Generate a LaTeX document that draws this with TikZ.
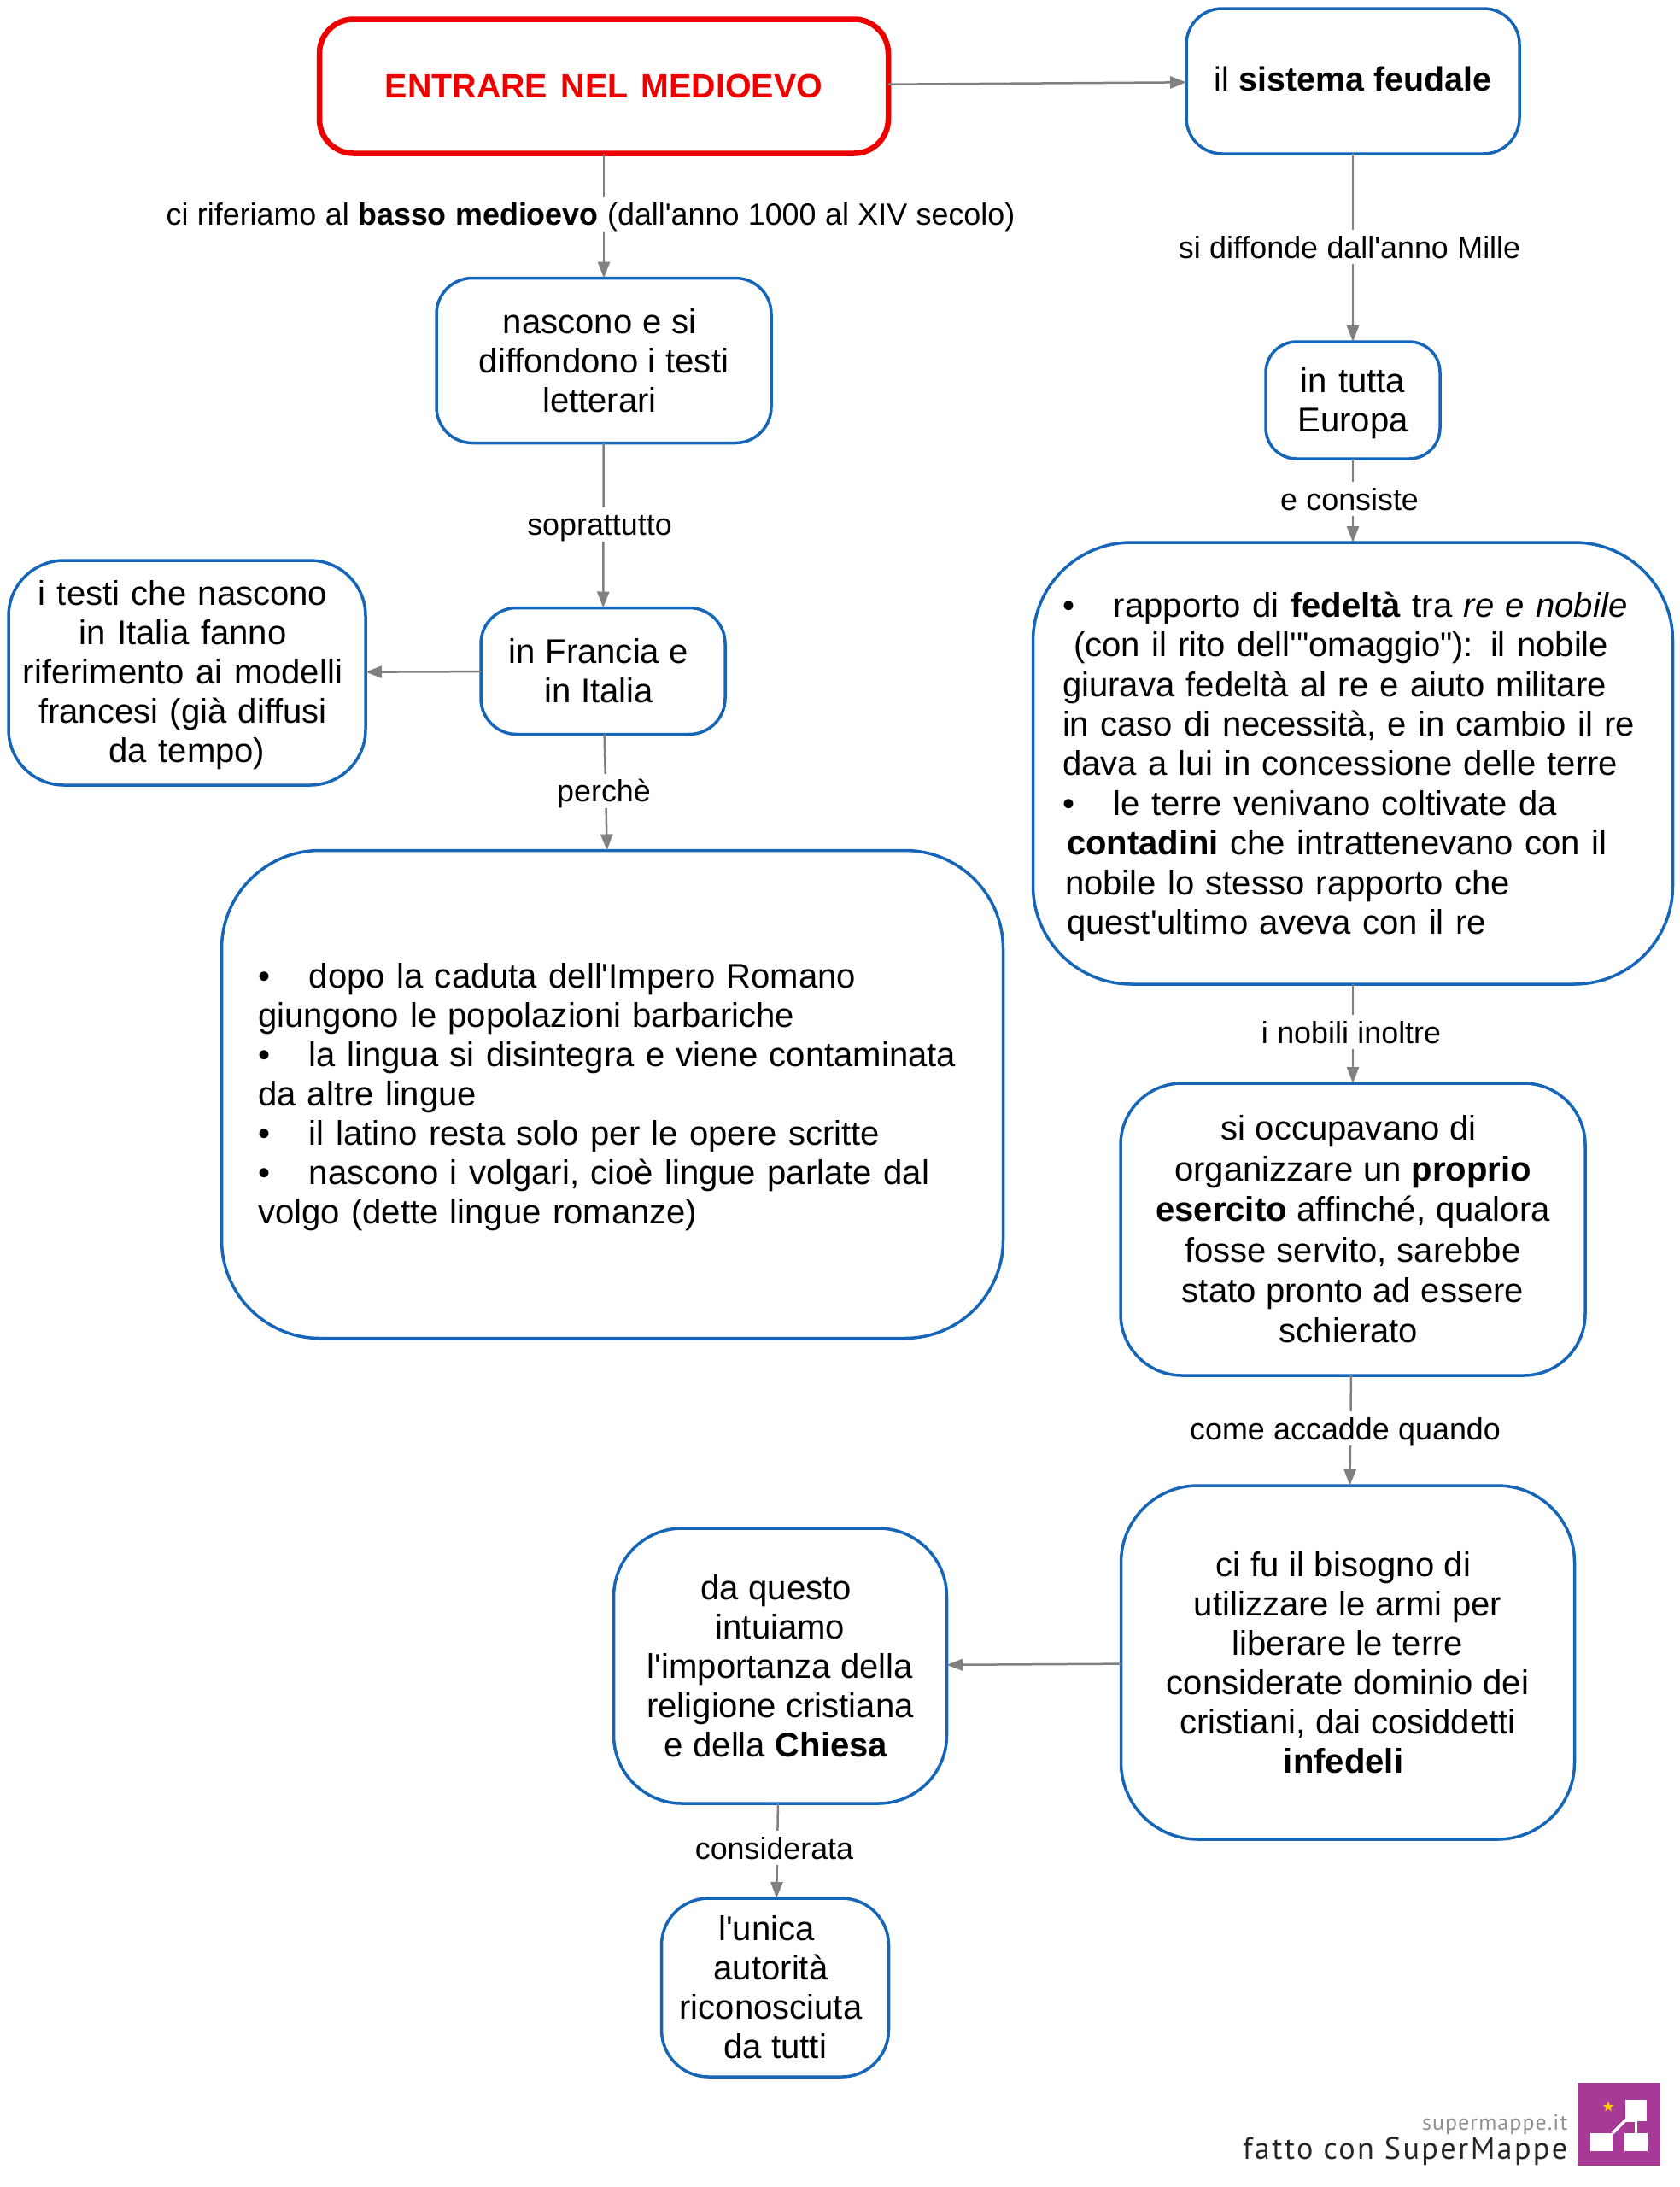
\documentclass[tikz,border=0pt]{standalone}
\usepackage{xcolor}
\usepackage{fontspec}
\setmainfont[WordSpace=1.4,Ligatures=TeXOff]{Liberation Sans}
\newfontfamily\labfont[WordSpace=1.05,Ligatures=TeXOff]{Liberation Sans}
\newfontfamily\logofont[LetterSpace=4]{PT Sans}
\newfontfamily\logofontb[LetterSpace=6.5]{PT Sans}
\usepackage{tikz}
\usetikzlibrary{shapes.geometric, arrows.meta, positioning}
\definecolor{boxdraw}{HTML}{1565B8}
\definecolor{maindraw}{HTML}{EE0000}
\definecolor{arrdraw}{HTML}{808080}
\definecolor{logofill}{HTML}{A63A96}
\definecolor{logostar}{HTML}{FFCC00}
\definecolor{logograu}{HTML}{909090}
\definecolor{logotxt}{HTML}{262626}
\newcommand{\bodysize}{\fontsize{11.4}{13.1}\selectfont}
\newcommand{\midsize}{\fontsize{11.4}{13.2}\selectfont}
\newcommand{\widesize}{\fontsize{11.4}{13.5}\selectfont}
\newcommand{\headsize}{\fontsize{11.2}{13.1}\selectfont}
\newcommand{\labsize}{\fontsize{10.2}{12}\labfont\selectfont}
\newcommand{\blt}{\makebox[0.6cm][l]{•}}
\newcommand{\ac}{\hspace*{0.1cm}\\}
\tikzset{
  blk/.style={rectangle, draw=boxdraw, fill=white, line width=0.035cm, align=center, font=\bodysize, inner sep=0pt, outer sep=0pt, rounded corners=0.42cm},
  bigblk/.style={blk, rounded corners=1.15cm, align=left},
  mainblk/.style={blk, draw=maindraw, line width=0.065cm, rounded corners=0.4cm, text=maindraw, font=\headsize\bfseries},
  lab/.style={fill=white, font=\labsize, inner xsep=0.03cm, inner ysep=0pt, outer sep=0pt, text height=0.33cm, text depth=0.07cm},
  arr/.style={-{Triangle[length=0.19cm,width=0.14cm]}, line width=0.025cm, draw=arrdraw},
  logobox/.style={rectangle, fill=white, inner sep=0pt, outer sep=0pt},
  logoline/.style={draw=white, line width=0.035cm},
}
\begin{document}
\begin{tikzpicture}
  \useasboundingbox (0,0) rectangle (19.67,-25.6);
  \node[mainblk, minimum width=6.66cm, minimum height=1.57cm] (titolo) at (7.07,-1.01) {ENTRARE\hspace{0.04cm} NEL\hspace{0.04cm} MEDIOEVO};
  \node[blk, font=\headsize, text depth=0.06cm, minimum width=3.9cm, minimum height=1.7cm, right=3.49cm of titolo, yshift=0.06cm] (feudale) {il \textbf{sistema feudale}};
  \node[blk, minimum width=3.92cm, minimum height=1.93cm, below=1.46cm of titolo] (testi) {nascono e si\ac diffondono i testi\ac letterari\hspace*{0.1cm}};
  \node[blk, text width=1.9cm, text height=0.37cm, minimum width=2.04cm, minimum height=1.37cm, rounded corners=0.36cm, below=2.2cm of feudale] (europa) {in tutta\hspace*{0.1cm}\\Europa};
  \node[bigblk, font=\midsize, text height=0.37cm, text width=6.8cm, minimum width=7.49cm, minimum height=5.17cm, below=0.98cm of europa] (rapporto) {\blt rapporto di \textbf{fedeltà} tra \textit{re e nobile}\\\hspace*{0.13cm}(con il rito dell'"omaggio"): il nobile\\giurava fedeltà al re e aiuto militare\\in caso di necessità, e in cambio il re\\dava a lui in concessione delle terre\\\blt le terre venivano coltivate da\\\hspace*{0.05cm}\textbf{contadini} che intrattenevano con il\\\hspace*{0.03cm}nobile lo stesso rapporto che\\\hspace*{0.05cm}quest'ultimo aveva con il re};
  \node[blk, font=\widesize, minimum width=5.44cm, minimum height=3.42cm, rounded corners=0.72cm, below=1.16cm of rapporto] (esercito) {si occupavano di\ac organizzare un \textbf{proprio}\ac \textbf{esercito} affinché, qualora\ac fosse servito, sarebbe\ac stato pronto ad essere\ac schierato\hspace*{0.1cm}};
  \node[blk, minimum width=5.31cm, minimum height=4.14cm, rounded corners=0.9cm, below=1.29cm of esercito, xshift=-0.06cm] (armi) {ci fu il bisogno di\ac utilizzare le armi per\ac liberare le terre\ac considerate dominio dei\ac cristiani, dai cosiddetti\ac \textbf{infedeli}\hspace*{0.1cm}};
  \node[blk, minimum width=3.9cm, minimum height=3.22cm, rounded corners=0.8cm, left=2.04cm of armi, yshift=-0.04cm] (chiesa) {da questo\ac intuiamo\ac l'importanza della\ac religione cristiana\ac e della \textbf{Chiesa}\hspace*{0.1cm}};
  \node[blk, minimum width=2.66cm, minimum height=2.09cm, rounded corners=0.55cm, below=1.11cm of chiesa, xshift=-0.06cm] (unica) {l'unica\hspace*{0.1cm}\ac autorità\hspace*{0.1cm}\ac riconosciuta\hspace*{0.1cm}\ac da tutti};
  \node[blk, minimum width=2.86cm, minimum height=1.48cm, below=1.93cm of testi, xshift=-0.01cm] (francia) {in Francia e\ac in Italia\hspace*{0.1cm}};
  \node[blk, text width=4.1cm, text height=0.35cm, minimum width=4.18cm, minimum height=2.63cm, rounded corners=0.65cm, left=1.35cm of francia, yshift=-0.02cm] (italia) {i testi che nascono\hspace*{0.1cm}\ac in Italia fanno\hspace*{0.1cm}\ac riferimento ai modelli\hspace*{0.1cm}\ac francesi (già diffusi\hspace*{0.1cm}\ac da tempo)\hspace*{0.2cm}};
  \node[bigblk, text height=0.35cm, text width=8.3cm, minimum width=9.15cm, minimum height=5.71cm, below=1.36cm of francia, xshift=0.11cm] (dopo) {\blt dopo la caduta dell'Impero Romano\\giungono le popolazioni barbariche\\\blt la lingua si disintegra e viene contaminata\\da altre lingue\\\blt il latino resta solo per le opere scritte\\\blt nascono i volgari, cioè lingue parlate dal\\volgo (dette lingue romanze)};
  \draw[arr] (titolo) -- (feudale);
  \draw[arr] (titolo) -- (testi);
  \draw[arr] (testi) -- (francia);
  \draw[arr] (francia) -- (italia);
  \draw[arr] (francia) -- (dopo);
  \draw[arr] (feudale) -- (europa);
  \draw[arr] (europa) -- (rapporto);
  \draw[arr] (rapporto) -- (esercito);
  \draw[arr] (esercito) -- (armi);
  \draw[arr] (armi) -- (chiesa);
  \draw[arr] (chiesa) -- (unica);
  \node[lab, below=0.51cm of titolo, xshift=-0.155cm] (labbasso) {ci riferiamo al \textbf{basso medioevo} (dall'anno 1000 al XIV secolo)};
  \node[lab, below=0.89cm of feudale, xshift=-0.04cm] (labmille) {si diffonde dall'anno Mille};
  \node[lab, below=0.75cm of testi, xshift=-0.05cm] (labsopra) {soprattutto};
  \node[lab, below=0.27cm of europa, xshift=-0.04cm] (labconsiste) {e consiste};
  \node[lab, below=0.46cm of francia, xshift=0.01cm] (labperche) {perchè};
  \node[lab, below=0.36cm of rapporto, xshift=-0.02cm] (labnobili) {i nobili inoltre};
  \node[lab, below=0.42cm of esercito, xshift=-0.09cm] (labcome) {come accadde quando};
  \node[lab, below=0.32cm of chiesa, xshift=-0.07cm] (labconsid) {considerata};
  \node[fill=logofill, minimum size=0.97cm, inner sep=0pt, outer sep=0pt] (logo) at (18.955,-24.865) {};
  \node[logobox, minimum width=0.25cm, minimum height=0.25cm] (logotop) at (19.155,-24.705) {};
  \node[logobox, minimum width=0.26cm, minimum height=0.21cm] (logosx) at (18.75,-25.075) {};
  \node[logobox, minimum width=0.27cm, minimum height=0.21cm] (logodx) at (19.155,-25.075) {};
  \coordinate (logojoin) at (19.03,-24.82);
  \draw[logoline] (logotop) -- (logodx);
  \draw[logoline] (logosx.north east) -- (logojoin) -- (logotop.south |- logojoin);
  \node[star, star points=5, star point ratio=2.4, fill=logostar, minimum size=0.13cm, inner sep=0pt] (logostella) at (18.83,-24.66) {};
  \node[anchor=base east, inner sep=0pt, text=logograu, font=\logofont\fontsize{7.4}{9}\selectfont] (logosito) at (18.36,-24.93) {supermappe.it};
  \node[anchor=base east, inner sep=0pt, text=logotxt, font=\logofontb\fontsize{10.3}{12}\selectfont] (logofatto) at (18.36,-25.27) {fatto con SuperMappe};
\end{tikzpicture}
\end{document}
